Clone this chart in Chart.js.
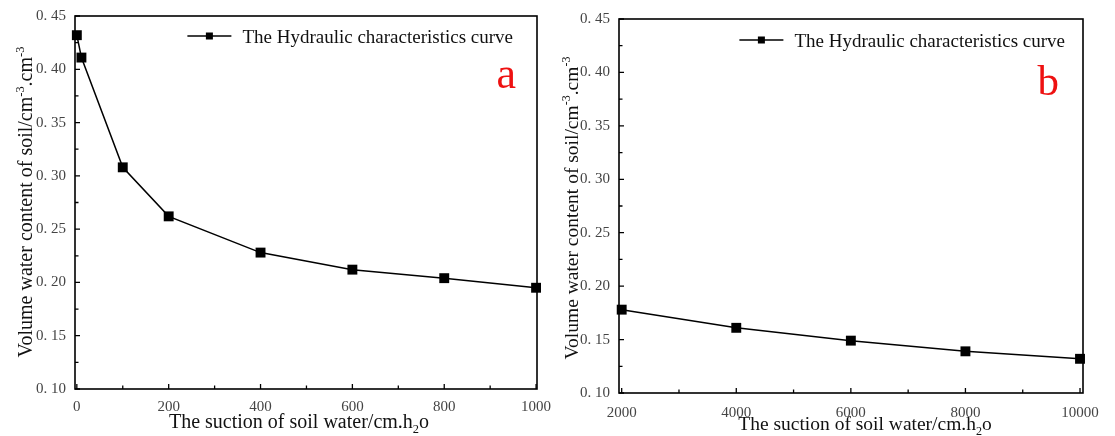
<!DOCTYPE html>
<html>
<head>
<meta charset="utf-8">
<script src="https://cdn.jsdelivr.net/npm/chart.js@4.4.1/dist/chart.umd.min.js"></script>
<style>
  html, body { margin: 0; padding: 0; background: #fff; }
  #wrap { position: relative; width: 1115px; height: 436px; overflow: hidden; background: #fff; }
  canvas { position: absolute; top: 0; }
  #chartA { left: 0; }
  #chartB { left: 552px; }
</style>
</head>
<body>
<div id="wrap">
  <canvas id="chartA" width="552" height="436"></canvas>
  <canvas id="chartB" width="563" height="436"></canvas>
</div>
<script>
// ---- data ----
const seriesLabel = 'The Hydraulic characteristics curve';

// panel a: low suction range
const suctionA = [0, 10, 100, 200, 400, 600, 800, 1000];
const waterA   = [0.432, 0.411, 0.308, 0.262, 0.228, 0.212, 0.204, 0.195];

// panel b: high suction range
const suctionB = [2000, 4000, 6000, 8000, 10000];
const waterB   = [0.178, 0.161, 0.149, 0.139, 0.132];

// tick values
const xMajorA = [0, 200, 400, 600, 800, 1000];
const xMinorA = [100, 300, 500, 700, 900];
const xMajorB = [2000, 4000, 6000, 8000, 10000];
const xMinorB = [3000, 5000, 7000, 9000];
const yMajor  = [0.10, 0.15, 0.20, 0.25, 0.30, 0.35, 0.40, 0.45];
const yMinor  = [0.125, 0.175, 0.225, 0.275, 0.325, 0.375, 0.425];

// axis titles: [text, kind]  kind 0 = normal, 1 = subscript, -1 = superscript
const xTitleParts = [['The suction of soil water/cm.h', 0], ['2', 1], ['o', 0]];
const yTitleParts = [['Volume water content of soil/cm', 0], ['-3', -1], ['.cm', 0], ['-3', -1]];

const SERIF = '"Liberation Serif", "Times New Roman", serif';

function drawRich(ctx, parts, size, x, y, measureOnly) {
  let cx = x;
  for (const [t, k] of parts) {
    const s = k ? size * 0.62 : size;
    ctx.font = s + 'px ' + SERIF;
    const dy = k === 1 ? size * 0.24 : (k === -1 ? -size * 0.42 : 0);
    if (!measureOnly) ctx.fillText(t, cx, y + dy);
    cx += ctx.measureText(t).width;
  }
  return cx - x;
}

// frame, inward ticks, legend, panel letter and axis titles
function framePlugin(cfg) {
  return {
    id: 'frame_' + cfg.letter,
    beforeDatasetsDraw(chart) {
      const { ctx, chartArea: a, scales } = chart;
      ctx.save();
      ctx.strokeStyle = '#000';
      ctx.lineWidth = 1.6;
      ctx.strokeRect(a.left, a.top, a.right - a.left, a.bottom - a.top);
      ctx.lineWidth = 1.3;
      ctx.beginPath();
      const tick = (vals, len) => {
        vals.forEach(v => {
          const px = scales.x.getPixelForValue(v);
          ctx.moveTo(px, a.bottom);
          ctx.lineTo(px, a.bottom - len);
        });
      };
      tick(cfg.xMajor, 5);
      tick(cfg.xMinor, 3.5);
      yMajor.forEach(v => {
        const py = scales.y.getPixelForValue(v);
        ctx.moveTo(a.left, py); ctx.lineTo(a.left + 5, py);
      });
      yMinor.forEach(v => {
        const py = scales.y.getPixelForValue(v);
        ctx.moveTo(a.left, py); ctx.lineTo(a.left + 3.5, py);
      });
      ctx.stroke();
      ctx.restore();
    },
    afterDraw(chart) {
      const { ctx } = chart;
      ctx.save();
      ctx.fillStyle = '#111';
      ctx.textBaseline = 'alphabetic';

      // legend
      ctx.font = '19px ' + SERIF;
      const label = chart.data.datasets[0].label;
      const tw = ctx.measureText(label).width;
      const tx = cfg.legendRight - tw;
      ctx.textAlign = 'left';
      ctx.fillText(label, tx, cfg.legendBase);
      ctx.strokeStyle = '#000';
      ctx.lineWidth = 1.6;
      ctx.beginPath();
      ctx.moveTo(tx - 55, cfg.legendLine);
      ctx.lineTo(tx - 11, cfg.legendLine);
      ctx.stroke();
      ctx.fillStyle = '#000';
      ctx.fillRect(tx - 33 - 3.5, cfg.legendLine - 3.5, 7, 7);

      // panel letter
      ctx.fillStyle = '#ee1111';
      ctx.font = cfg.letterSize + 'px ' + SERIF;
      ctx.textAlign = 'right';
      ctx.fillText(cfg.letter, cfg.letterX, cfg.letterY);

      // x title
      ctx.fillStyle = '#111';
      ctx.textAlign = 'left';
      const xw = drawRich(ctx, xTitleParts, cfg.xTitleSize, 0, 0, true);
      drawRich(ctx, xTitleParts, cfg.xTitleSize, cfg.xTitleCx - xw / 2, cfg.xTitleBase, false);

      // y title (rotated)
      ctx.save();
      ctx.translate(cfg.yTitleBase, cfg.yTitleCy);
      ctx.rotate(-Math.PI / 2);
      const yw = drawRich(ctx, yTitleParts, cfg.yTitleSize, 0, 0, true);
      drawRich(ctx, yTitleParts, cfg.yTitleSize, -yw / 2, 0, false);
      ctx.restore();

      ctx.restore();
    }
  };
}

function noEdgePadding(s) {
  s.paddingLeft = 0; s.paddingRight = 0; s.paddingTop = 0; s.paddingBottom = 0;
}

function makeChart(id, xs, ys, cfg) {
  return new Chart(document.getElementById(id), {
    type: 'line',
    data: {
      datasets: [{
        label: seriesLabel,
        data: xs.map((x, i) => ({ x: x, y: ys[i] })),
        borderColor: '#000',
        backgroundColor: '#000',
        borderWidth: 1.5,
        pointStyle: 'rect',
        pointRadius: 7,
        pointBorderWidth: 0,
        pointBackgroundColor: '#000',
        tension: 0,
        clip: false
      }]
    },
    options: {
      responsive: false,
      animation: false,
      devicePixelRatio: 1,
      layout: { padding: { top: cfg.padTop, right: cfg.padRight, left: 0, bottom: 0 } },
      plugins: { legend: { display: false }, tooltip: { enabled: false } },
      scales: {
        x: {
          type: 'linear',
          min: cfg.xMin,
          max: cfg.xMax,
          grid: { display: false, drawTicks: false },
          border: { display: false },
          afterBuildTicks: s => { s.ticks = cfg.xMajor.map(v => ({ value: v })); },
          afterFit: s => { s.height = cfg.xAxisH; noEdgePadding(s); },
          ticks: {
            padding: cfg.xTickPad,
            autoSkip: false,
            maxRotation: 0,
            color: '#444',
            font: { family: SERIF, size: 15 },
            callback: v => String(v)
          }
        },
        y: {
          type: 'linear',
          min: 0.10,
          max: 0.45,
          grid: { display: false, drawTicks: false },
          border: { display: false },
          afterBuildTicks: s => { s.ticks = yMajor.map(v => ({ value: v })); },
          afterFit: s => { s.width = cfg.yAxisW; noEdgePadding(s); },
          ticks: {
            padding: 9,
            color: '#444',
            font: { family: SERIF, size: 15 },
            callback: v => Number(v).toFixed(2).replace('.', '. ')
          }
        }
      }
    },
    plugins: [framePlugin(cfg)]
  });
}

makeChart('chartA', suctionA, waterA, {
  letter: 'a',
  xMin: -4, xMax: 1002,
  xMajor: xMajorA, xMinor: xMinorA,
  padTop: 16, padRight: 15, yAxisW: 75, xAxisH: 47,
  xTickPad: 9,
  legendRight: 513, legendBase: 43, legendLine: 36,
  letterSize: 44, letterX: 516, letterY: 88,
  xTitleSize: 20, xTitleCx: 299, xTitleBase: 428,
  yTitleSize: 20, yTitleBase: 32, yTitleCy: 202
});

makeChart('chartB', suctionB, waterB, {
  letter: 'b',
  xMin: 1953, xMax: 10052,
  xMajor: xMajorB, xMinor: xMinorB,
  padTop: 19, padRight: 32, yAxisW: 67, xAxisH: 43,
  xTickPad: 11,
  legendRight: 513, legendBase: 47, legendLine: 40,
  letterSize: 43, letterX: 507, letterY: 95,
  xTitleSize: 19.5, xTitleCx: 313, xTitleBase: 430,
  yTitleSize: 19.5, yTitleBase: 26, yTitleCy: 208
});
</script>
</body>
</html>
